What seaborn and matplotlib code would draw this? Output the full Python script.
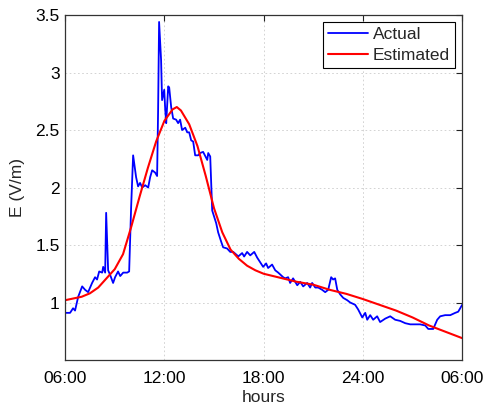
import numpy as np
import pandas as pd
import matplotlib
matplotlib.use("Agg")
import matplotlib.pyplot as plt
import seaborn as sns

# measured field (hours since midnight, V/m)
actual_hours = [6.00, 6.30, 6.48, 6.60, 6.79, 7.03, 7.21, 7.39, 7.63, 7.81, 7.93,
                8.06, 8.24, 8.30, 8.42, 8.48, 8.60, 8.72, 8.90, 9.02, 9.20, 9.33,
                9.51, 9.75, 9.87, 9.99, 10.11, 10.29, 10.41, 10.53, 10.66, 10.84,
                11.02, 11.14, 11.26, 11.44, 11.56, 11.62, 11.68, 11.80, 11.86,
                11.99, 12.05, 12.11, 12.23, 12.29, 12.41, 12.53, 12.71, 12.83,
                12.95, 13.07, 13.26, 13.38, 13.50, 13.62, 13.74, 13.86, 14.04,
                14.16, 14.34, 14.59, 14.65, 14.77, 14.89, 15.13, 15.25, 15.43,
                15.55, 15.79, 15.98, 16.16, 16.40, 16.46, 16.70, 16.82, 17.00,
                17.19, 17.43, 17.61, 17.79, 17.97, 18.15, 18.27, 18.51, 18.70,
                18.88, 19.18, 19.30, 19.48, 19.60, 19.78, 20.03, 20.21, 20.39,
                20.63, 20.81, 20.93, 21.12, 21.30, 21.54, 21.72, 21.90, 22.08,
                22.20, 22.32, 22.45, 22.63, 22.81, 23.05, 23.23, 23.53, 23.71,
                23.96, 24.14, 24.26, 24.44, 24.62, 24.86, 25.04, 25.35, 25.65,
                25.95, 26.25, 26.56, 26.86, 27.16, 27.46, 27.77, 27.95, 28.25,
                28.49, 28.67, 28.97, 29.28, 29.58, 29.76, 30.00]
actual_vals = [0.91, 0.91, 0.95, 0.93, 1.05, 1.14, 1.11, 1.09, 1.17, 1.22, 1.20,
               1.27, 1.26, 1.31, 1.26, 1.78, 1.28, 1.24, 1.17, 1.22, 1.27, 1.23,
               1.26, 1.26, 1.27, 1.83, 2.28, 2.09, 2.01, 2.04, 2.00, 2.02,
               2.00, 2.09, 2.15, 2.13, 2.10, 2.67, 3.44, 3.11, 2.76,
               2.85, 2.68, 2.56, 2.88, 2.87, 2.70, 2.60, 2.59, 2.56,
               2.59, 2.50, 2.52, 2.48, 2.48, 2.41, 2.40, 2.28, 2.28,
               2.30, 2.31, 2.24, 2.30, 2.27, 1.80, 1.69, 1.61, 1.53,
               1.48, 1.47, 1.44, 1.44, 1.41, 1.40, 1.43, 1.40, 1.44,
               1.41, 1.44, 1.39, 1.35, 1.31, 1.34, 1.30, 1.33, 1.28,
               1.26, 1.22, 1.21, 1.22, 1.17, 1.21, 1.15, 1.18, 1.14,
               1.17, 1.13, 1.17, 1.13, 1.13, 1.11, 1.09, 1.11, 1.22,
               1.20, 1.21, 1.11, 1.07, 1.04, 1.02, 1.00, 0.98, 0.94,
               0.87, 0.91, 0.85, 0.89, 0.85, 0.88, 0.83, 0.86, 0.88,
               0.85, 0.84, 0.82, 0.81, 0.81, 0.81, 0.80, 0.77, 0.77,
               0.85, 0.88, 0.89, 0.89, 0.91, 0.92, 0.98]

# model estimate
est_hours = [6.0, 7.0, 7.5, 8.0, 8.5, 9.0, 9.5, 10.0, 10.5, 11.0, 11.5, 12.0,
             12.5, 12.75, 13.0, 13.5, 14.0, 14.5, 15.0, 15.5, 16.0, 16.5, 17.0,
             17.5, 18.0, 19.0, 20.0, 21.0, 22.0, 23.0, 24.0, 25.0, 26.0, 27.0,
             28.0, 29.0, 30.0]
est_vals = [1.02, 1.05, 1.08, 1.13, 1.21, 1.29, 1.42, 1.66, 1.92, 2.17, 2.40, 2.58,
            2.68, 2.70, 2.67, 2.55, 2.36, 2.10, 1.82, 1.61, 1.46, 1.38, 1.32,
            1.28, 1.25, 1.215, 1.18, 1.155, 1.11, 1.075, 1.03, 0.98, 0.93, 0.87,
            0.80, 0.745, 0.69]

tick_hours = [6, 12, 18, 24, 30]
tick_labels = ["06:00", "12:00", "18:00", "24:00", "06:00"]
y_ticks = [1, 1.5, 2, 2.5, 3, 3.5]
y_labels = ["1", "1.5", "2", "2.5", "3", "3.5"]

sns.set_style("white")
plt.rcParams['font.family'] = ['Liberation Sans', 'DejaVu Sans']

fig = plt.figure(figsize=(4.86, 4.07), dpi=100)
ax = fig.add_axes([0.134, 0.1155, 0.817, 0.8475])

sns.lineplot(x=actual_hours, y=actual_vals, ax=ax, color=(0, 0, 1), lw=1.3,
             label="Actual", sort=False, estimator=None)
sns.lineplot(x=est_hours, y=est_vals, ax=ax, color=(1, 0, 0), lw=1.5,
             label="Estimated", sort=False, estimator=None)

ax.set_xlim(6, 30)
ax.set_ylim(0.5, 3.5)
ax.set_xticks(tick_hours)
ax.set_xticklabels(tick_labels)
ax.set_yticks(y_ticks)
ax.set_yticklabels(y_labels)
ax.grid(True, color="#cccccc", linestyle=(0, (2, 3)), linewidth=0.6)
ax.tick_params(direction="in", length=4, width=0.8, top=True, right=True,
               labelsize=12.5, colors="#222222", labelcolor="black")
ax.tick_params(axis="x", pad=8)
ax.tick_params(axis="y", pad=4)
for s in ax.spines.values():
    s.set_color("#333333")
    s.set_linewidth(0.9)

ax.set_xlabel("hours", fontsize=12.5, labelpad=3)
ax.set_ylabel("E (V/m)", fontsize=12.5, labelpad=7)

leg = ax.legend(loc="upper right", fontsize=12.5, frameon=True, fancybox=False,
                edgecolor="black", framealpha=1, handlelength=2.3,
                borderpad=0.3, labelspacing=0.3, handletextpad=0.3,
                borderaxespad=0.4)
leg.get_frame().set_linewidth(0.8)

fig.savefig("out.png", dpi=100)
